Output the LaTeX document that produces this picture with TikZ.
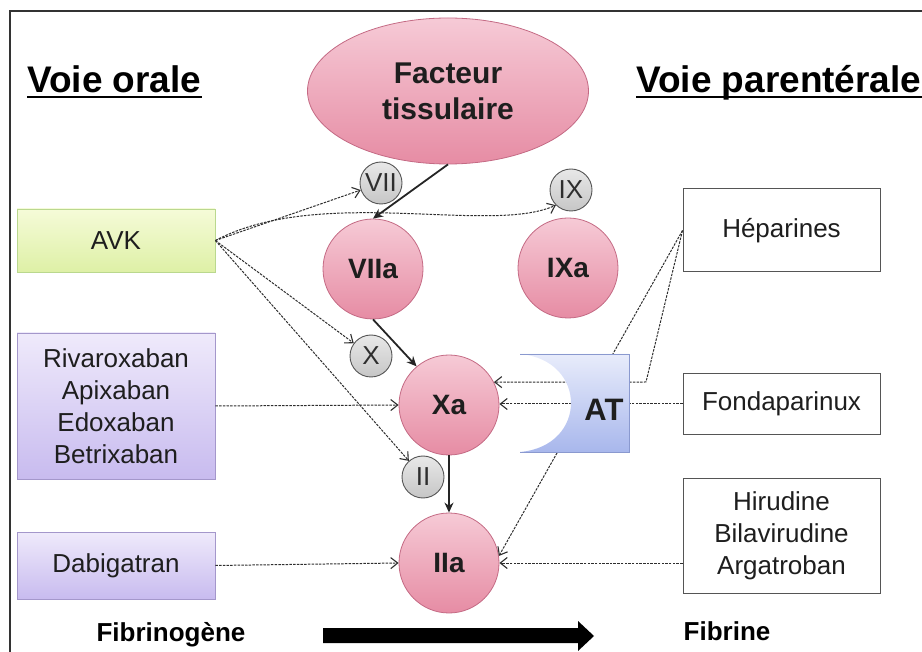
\documentclass[tikz,border=0pt]{standalone}
\usepackage{fontspec}
\setmainfont{Liberation Sans}
\usetikzlibrary{arrows.meta,shapes.geometric}
\definecolor{pinktop}{HTML}{F6CAD6}
\definecolor{pinkbot}{HTML}{E68CA4}
\definecolor{pinkedge}{HTML}{C46A84}
\definecolor{graytop}{HTML}{E8E8E8}
\definecolor{graybot}{HTML}{C6C6C6}
\definecolor{grayedge}{HTML}{555555}
\definecolor{greentop}{HTML}{F5FBD8}
\definecolor{greenbot}{HTML}{DEF0A6}
\definecolor{greenedge}{HTML}{BAD88E}
\definecolor{purpletop}{HTML}{EFEAFB}
\definecolor{purplebot}{HTML}{C8BBEF}
\definecolor{purpleedge}{HTML}{A497CB}
\definecolor{bluetop}{HTML}{E8ECFB}
\definecolor{bluebot}{HTML}{A8B7EC}
\definecolor{blueedge}{HTML}{8A99CF}
\definecolor{linegray}{HTML}{2E2E2E}
\definecolor{textdark}{HTML}{1E1E1E}
\begin{document}
\begin{tikzpicture}[x=1pt,y=-1pt,
  bigfactor/.style={circle, minimum size=100pt, inner sep=0pt, draw=pinkedge, line width=0.8pt,
    top color=pinktop, bottom color=pinkbot, text=textdark, font=\bfseries\fontsize{28}{30}\selectfont},
  smallfactor/.style={circle, minimum size=42pt, inner sep=0pt, draw=grayedge, line width=0.9pt,
    top color=graytop, bottom color=graybot, text=linegray, font=\fontsize{26}{28}\selectfont},
  drugbox/.style={rectangle, minimum width=198pt, inner sep=0pt, align=center, text=textdark,
    font=\fontsize{26}{32}\selectfont},
  greenbox/.style={drugbox, draw=greenedge, line width=0.8pt, top color=greentop, bottom color=greenbot},
  purplebox/.style={drugbox, draw=purpleedge, line width=0.8pt, top color=purpletop, bottom color=purplebot},
  whitebox/.style={drugbox, minimum width=197pt, draw=grayedge, line width=1pt, fill=white},
  title/.style={anchor=base west, inner sep=0pt, font=\bfseries\fontsize{37}{40}\selectfont},
  bottomlabel/.style={inner sep=0pt, font=\bfseries\fontsize{26}{30}\selectfont},
  inhib/.style={draw=linegray, line width=1pt, dash pattern=on 2.5pt off 1.2pt},
  inhibarrow/.style={inhib, -{Straight Barb[length=7pt,width=11pt,line width=1.1pt]}},
  activ/.style={draw=linegray!80!black, line width=1.8pt, -{Stealth[length=10pt,width=9pt]}}
]
\useasboundingbox (0,0) rectangle (922,652);
% frame
\draw[line width=1.8pt, draw=black!80] (10,652) -- (10,11) -- (922,11);

% titles
\node[title] (vo) at (27,93) {Voie orale};
\draw[line width=2pt] ([yshift=-4pt]vo.base west) -- ([yshift=-4pt]vo.base east);
\node[title] (vp) at (636,93) {Voie parentérale};
\draw[line width=2pt] ([yshift=-4pt]vp.base west) -- ([yshift=-4pt]vp.base east);

% factors
\node[ellipse, minimum width=281pt, minimum height=146pt, inner sep=0pt, draw=pinkedge, line width=0.8pt,
  top color=pinktop, bottom color=pinkbot, align=center, text=textdark,
  font=\bfseries\fontsize{30}{36}\selectfont] (ft) at (448,91) {Facteur\\tissulaire};
\node[smallfactor] (vii) at (381,183) {VII};
\node[smallfactor] (ix) at (571,190) {IX};
\node[bigfactor] (viia) at (373,269) {VIIa};
\node[bigfactor] (ixa) at (568,268) {IXa};
\node[smallfactor] (x) at (371,356) {X};
\node[bigfactor] (xa) at (449,405) {Xa};
\node[smallfactor] (ii) at (423,477) {II};
\node[bigfactor] (iia) at (449,563) {IIa};

% drug boxes
\node[greenbox, minimum height=63pt] (avk) at (116,240.5) {AVK};
\node[purplebox, minimum height=146pt] (riva) at (116,406) {Rivaroxaban\\Apixaban\\Edoxaban\\Betrixaban};
\node[purplebox, minimum height=67pt] (dabi) at (116,565.5) {Dabigatran};
\node[whitebox, minimum height=83pt] (hep) at (781.5,230.5) {Héparines};
\node[whitebox, minimum height=61pt] (fonda) at (781.5,404) {Fondaparinux};
\node[whitebox, minimum height=114pt] (hir) at (781.5,536) {Hirudine\\Bilavirudine\\Argatroban};

% AVK connectors
\draw[inhibarrow] (avk.east) -- (vii);
\draw[inhibarrow] (avk.east) .. controls (320,185) and (490,235) .. (ix.south west);
\draw[inhibarrow] (avk.east) -- (x);
\draw[inhibarrow] (avk.east) -- (ii);
\draw[inhibarrow] (riva.east) -- (xa.west);
\draw[inhibarrow] (dabi.east) -- (iia.west);

% parenteral connectors (behind AT)
\coordinate (hepbend) at (646,382);
\draw[inhibarrow] (hep.west) -- (hepbend) -- (xa.27);
\draw[inhibarrow] (hep.west) -- (iia.8);
\draw[inhibarrow] (fonda.west) -- (fonda.west -| xa.east);
\draw[inhibarrow] (iia.east -| hir.west) -- (iia.east);

% AT shape
\path[top color=bluetop, bottom color=bluebot]
  (520,354) -- (629,354) -- (629,452) -- (520,452) .. controls (588,446) and (588,360) .. (520,354) -- cycle;
\draw[draw=blueedge, line width=0.9pt] (520,354) -- (629,354) -- (629,452) -- (520,452);
\node[inner sep=0pt, text=textdark, font=\bfseries\fontsize{31}{34}\selectfont] (at) at (604,410) {AT};

% activation arrows
\draw[activ] (ft.south) -- (viia.north);
\draw[activ] (viia.south) -- (xa.130);
\draw[activ, line width=1.4pt] (xa.south) -- (iia.north);

% bottom
\node[bottomlabel] (fbg) at (171,635) {Fibrinogène};
\node[bottomlabel] (fbn) at (727,631) {Fibrine};
\fill[black] (323,628) -- (578,628) -- (578,621) -- (594,636) -- (578,651) -- (578,643) -- (323,643) -- cycle;
\end{tikzpicture}
\end{document}
